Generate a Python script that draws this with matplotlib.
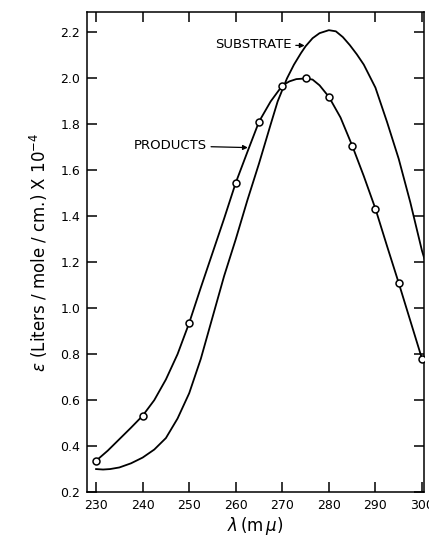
import matplotlib
matplotlib.use("Agg")
import matplotlib.pyplot as plt

# products: measured points (circles)
productsWl = [230, 240, 250, 260, 265, 270, 275, 280, 285, 290, 295, 300]
productsEps = [0.336, 0.532, 0.936, 1.546, 1.812, 1.969, 2.0, 1.92, 1.708, 1.433, 1.11, 0.78]

# products: drawn curve
productsCurveWl = [230, 232.5, 235, 237.5, 240, 242.5, 245, 247.5, 250, 252.5, 255, 257.5, 260, 262.5, 265,
                   267.5, 270, 271.5, 273, 275, 276.5, 278, 280, 282.5, 285, 287.5, 290, 292.5, 295, 297.5, 300]
productsCurveEps = [0.336, 0.38, 0.43, 0.48, 0.532, 0.60, 0.69, 0.80, 0.936, 1.09, 1.24, 1.39, 1.546, 1.68, 1.812,
                    1.90, 1.969, 1.987, 1.997, 2.0, 1.995, 1.97, 1.92, 1.83, 1.708, 1.575, 1.433, 1.27, 1.11, 0.945, 0.78]

# substrate: drawn curve
substrateWl = [230, 231.5, 233, 235, 237.5, 240, 242.5, 245, 247.5, 250, 252.5, 255, 257.5, 260, 262.5, 265,
               267.5, 269, 270, 271, 272.5, 274, 275, 276.5, 278, 280, 281.5, 283, 284.5, 286, 287.5, 289, 290,
               292.5, 295, 297.5, 300, 300.6]
substrateEps = [0.30, 0.298, 0.30, 0.307, 0.325, 0.35, 0.385, 0.435, 0.52, 0.63, 0.78, 0.96, 1.14, 1.30, 1.47, 1.63,
                1.80, 1.90, 1.95, 2.0, 2.06, 2.11, 2.14, 2.175, 2.197, 2.21, 2.205, 2.18, 2.145, 2.105, 2.06, 2.0, 1.96,
                1.81, 1.65, 1.46, 1.25, 1.21]

xTicks = [230, 240, 250, 260, 270, 280, 290, 300]
yTicks = [0.2, 0.4, 0.6, 0.8, 1.0, 1.2, 1.4, 1.6, 1.8, 2.0, 2.2]

plt.rcParams['font.family'] = ['DejaVu Sans']

fig = plt.figure(figsize=(4.29, 5.36), dpi=100)
ax = fig.add_axes([0.203, 0.082, 0.785, 0.896])

ax.plot(substrateWl, substrateEps, color='black', lw=1.3)
ax.plot(productsCurveWl, productsCurveEps, color='black', lw=1.3)
ax.plot(productsWl, productsEps, 'o', color='black', markerfacecolor='white', markersize=5, mew=1.1, zorder=3)

ax.annotate('SUBSTRATE', xy=(274.8, 2.143), xytext=(272.0, 2.148), fontsize=9.5, ha='right', va='center',
            arrowprops=dict(arrowstyle='-|>', color='black', lw=0.9, mutation_scale=7, shrinkA=1, shrinkB=0))
ax.annotate('PRODUCTS', xy=(262.6, 1.699), xytext=(253.8, 1.707), fontsize=9.5, ha='right', va='center',
            arrowprops=dict(arrowstyle='-|>', color='black', lw=0.9, mutation_scale=7, shrinkA=1, shrinkB=0))

ax.set_xlim(228.07, 300.4)
ax.set_ylim(0.2, 2.29)
ax.set_xticks(xTicks)
ax.set_yticks(yTicks)
ax.set_yticklabels(['%.1f' % v for v in yTicks])
ax.tick_params(direction='in', length=7, width=1.1, top=True, right=True, labelsize=9, pad=5)

for s in ax.spines.values():
    s.set_linewidth(1.1)

ax.set_xlabel(r'$\lambda\,$(m$\,\mu$)', fontsize=12, labelpad=2)
ax.set_ylabel(r'$\epsilon$ (Liters / mole / cm.) X 10$^{-4}$', fontsize=12, labelpad=7)

fig.savefig('out.png', dpi=100)
